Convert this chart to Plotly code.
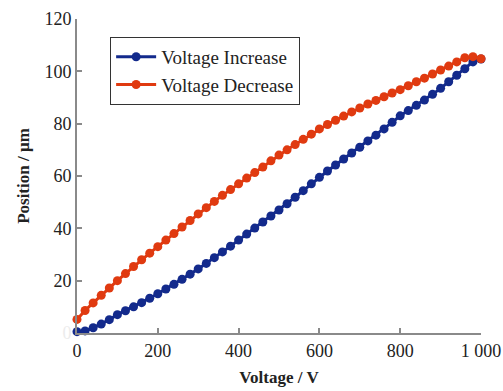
import plotly.graph_objects as go

voltage = list(range(0, 1001, 20))

pos_increase = [0.5, 0.8, 2.0, 3.4, 5.1, 7.0, 8.5, 10.0, 11.6, 13.3,
                15.0, 16.8, 18.6, 20.5, 22.5, 24.5, 26.6, 28.8, 31.0, 33.2,
                35.5, 37.8, 40.1, 42.4, 44.7, 47.0, 49.4, 51.9, 54.4, 57.0,
                59.5, 61.9, 64.2, 66.5, 68.8, 71.0, 73.4, 75.6, 78.0, 80.5,
                83.0, 85.0, 87.0, 89.0, 91.2, 93.5, 96.0, 98.5, 101.0, 103.6,
                104.7]

pos_decrease = [5.2, 8.6, 11.5, 14.4, 17.2, 20.0, 22.7, 25.4, 28.0, 30.5,
                33.0, 35.5, 38.0, 40.5, 43.0, 45.5, 47.9, 50.3, 52.6, 54.8,
                57.0, 59.2, 61.3, 63.4, 65.8, 68.0, 70.0, 72.0, 74.0, 76.0,
                78.0, 79.7, 81.3, 82.9, 84.5, 86.0, 87.5, 88.9, 90.3, 91.7,
                93.0, 94.5, 96.0, 97.4, 99.0, 100.5, 102.0, 103.6, 105.2, 105.6,
                104.8]

x_ticks = [0, 200, 400, 600, 800, 1000]
x_tick_labels = ["0", "200", "400", "600", "800", "1 000"]
y_ticks = [0, 20, 40, 60, 80, 100, 120]
y_tick_labels = ['<span style="color:#ececec">0</span>', "20", "40", "60", "80", "100", "120"]

BLUE = "#132a8c"
RED = "#e03a10"
AXIS = "#8a8a8a"
FONT = "Liberation Serif"

fig = go.Figure()
fig.add_trace(go.Scatter(
    x=voltage, y=pos_increase, mode="lines+markers", name="Voltage Increase",
    line=dict(color=BLUE, width=3), marker=dict(color=BLUE, size=9),
    cliponaxis=False))
fig.add_trace(go.Scatter(
    x=voltage, y=pos_decrease, mode="lines+markers", name="Voltage Decrease",
    line=dict(color=RED, width=3), marker=dict(color=RED, size=9),
    cliponaxis=False))

fig.update_layout(
    width=503, height=391,
    margin=dict(l=77, r=22, t=19, b=58, autoexpand=False),
    paper_bgcolor="white", plot_bgcolor="white",
    font=dict(family=FONT, size=18, color="#222"),
    showlegend=True,
    legend=dict(
        x=0.082, y=0.943, xanchor="left", yanchor="top",
        bgcolor="white", bordercolor="#333", borderwidth=1,
        font=dict(family=FONT, size=19, color="#222"),
        itemwidth=40, tracegroupgap=0,
    ),
    xaxis=dict(
        range=[0, 1000], tickmode="array", tickvals=x_ticks, ticktext=x_tick_labels,
        showline=True, linecolor=AXIS, linewidth=2, showgrid=False, zeroline=False,
        ticks="inside", ticklen=5, tickwidth=2, tickcolor=AXIS, automargin=False,
        title=dict(text="<b>Voltage / V</b>", font=dict(family=FONT, size=17, color="#222"), standoff=12),
    ),
    yaxis=dict(
        range=[0, 120], tickmode="array", tickvals=y_ticks, ticktext=y_tick_labels,
        showline=True, linecolor=AXIS, linewidth=2, showgrid=False, zeroline=False,
        ticks="inside", ticklen=5, tickwidth=2, tickcolor=AXIS, automargin=False,
        title=dict(text="<b>Position / µm</b>", font=dict(family=FONT, size=17, color="#222"), standoff=10),
    ),
)

fig.write_html("out.html", config={"displayModeBar": False},
               post_script="document.body.style.margin='0';document.body.style.padding='0';")
